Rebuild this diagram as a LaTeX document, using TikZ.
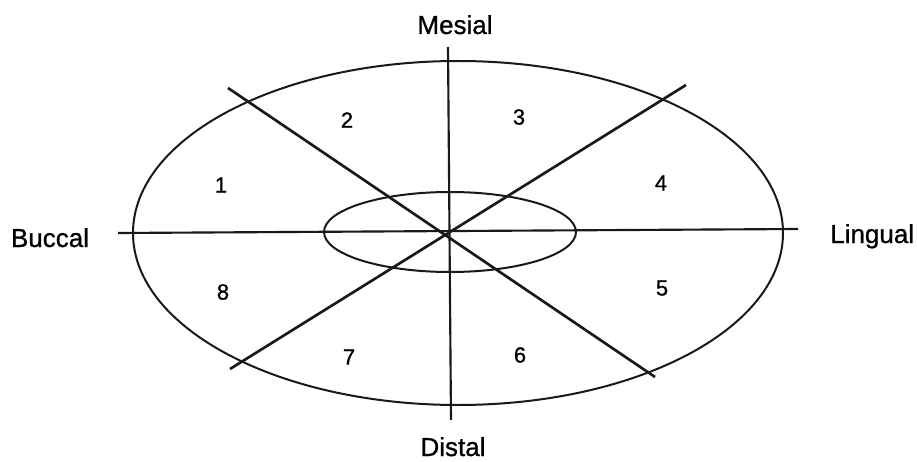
\documentclass[tikz,border=0pt]{standalone}
\usepackage{fontspec}
\setmainfont{Liberation Sans}[FakeBold=0.9,AutoFakeBold=0.9]
\usepackage{tikz}

\begin{document}
\begin{tikzpicture}[x=0.75pt,y=0.75pt,
    axisline/.style={line width=1.6pt,black!90},
    cutline/.style={line width=2pt,black!90},
    ringline/.style={line width=1.5pt,black!90},
    sidelabel/.style={inner sep=0pt,anchor=base,font=\bfseries\fontsize{19.5}{20}\selectfont},
    zonelabel/.style={inner sep=0pt,font=\bfseries\fontsize{16.5}{17}\selectfont}]
  \useasboundingbox (0,0) rectangle (917,461);
  % outer and inner rings
  \draw[ringline] (458,228) ellipse [x radius=325, y radius=172];
  \draw[ringline] (450,229) ellipse [x radius=126, y radius=40];
  % end points of the lines
  \coordinate (mtop) at (448,414);
  \coordinate (dbot) at (451,41);
  \coordinate (bleft) at (118,228);
  \coordinate (lright) at (798,232);
  \coordinate (ul) at (228,373);
  \coordinate (lr) at (655,84);
  \coordinate (ll) at (230,92);
  \coordinate (ur) at (686,376);
  % axes
  \draw[axisline] (mtop) -- (dbot);
  \draw[axisline] (bleft) -- (lright);
  % diagonals
  \draw[cutline] (ul) -- (lr);
  \draw[cutline] (ll) -- (ur);
  % side labels
  \node[sidelabel] (mesial) at (455,427) {Mesial};
  \node[sidelabel] (distal) at (453,5) {Distal};
  \node[sidelabel] (buccal) at (50,214) {Buccal};
  \node[sidelabel,anchor=base west] (lingual) at (830,218) {Lingual};
  % zone numbers
  \node[zonelabel] (z1) at (221,276) {1};
  \node[zonelabel] (z2) at (347,341) {2};
  \node[zonelabel] (z3) at (519,344) {3};
  \node[zonelabel] (z4) at (661,278) {4};
  \node[zonelabel] (z5) at (662,173) {5};
  \node[zonelabel] (z6) at (520,106) {6};
  \node[zonelabel] (z7) at (349,104) {7};
  \node[zonelabel] (z8) at (223,169) {8};
\end{tikzpicture}
\end{document}
